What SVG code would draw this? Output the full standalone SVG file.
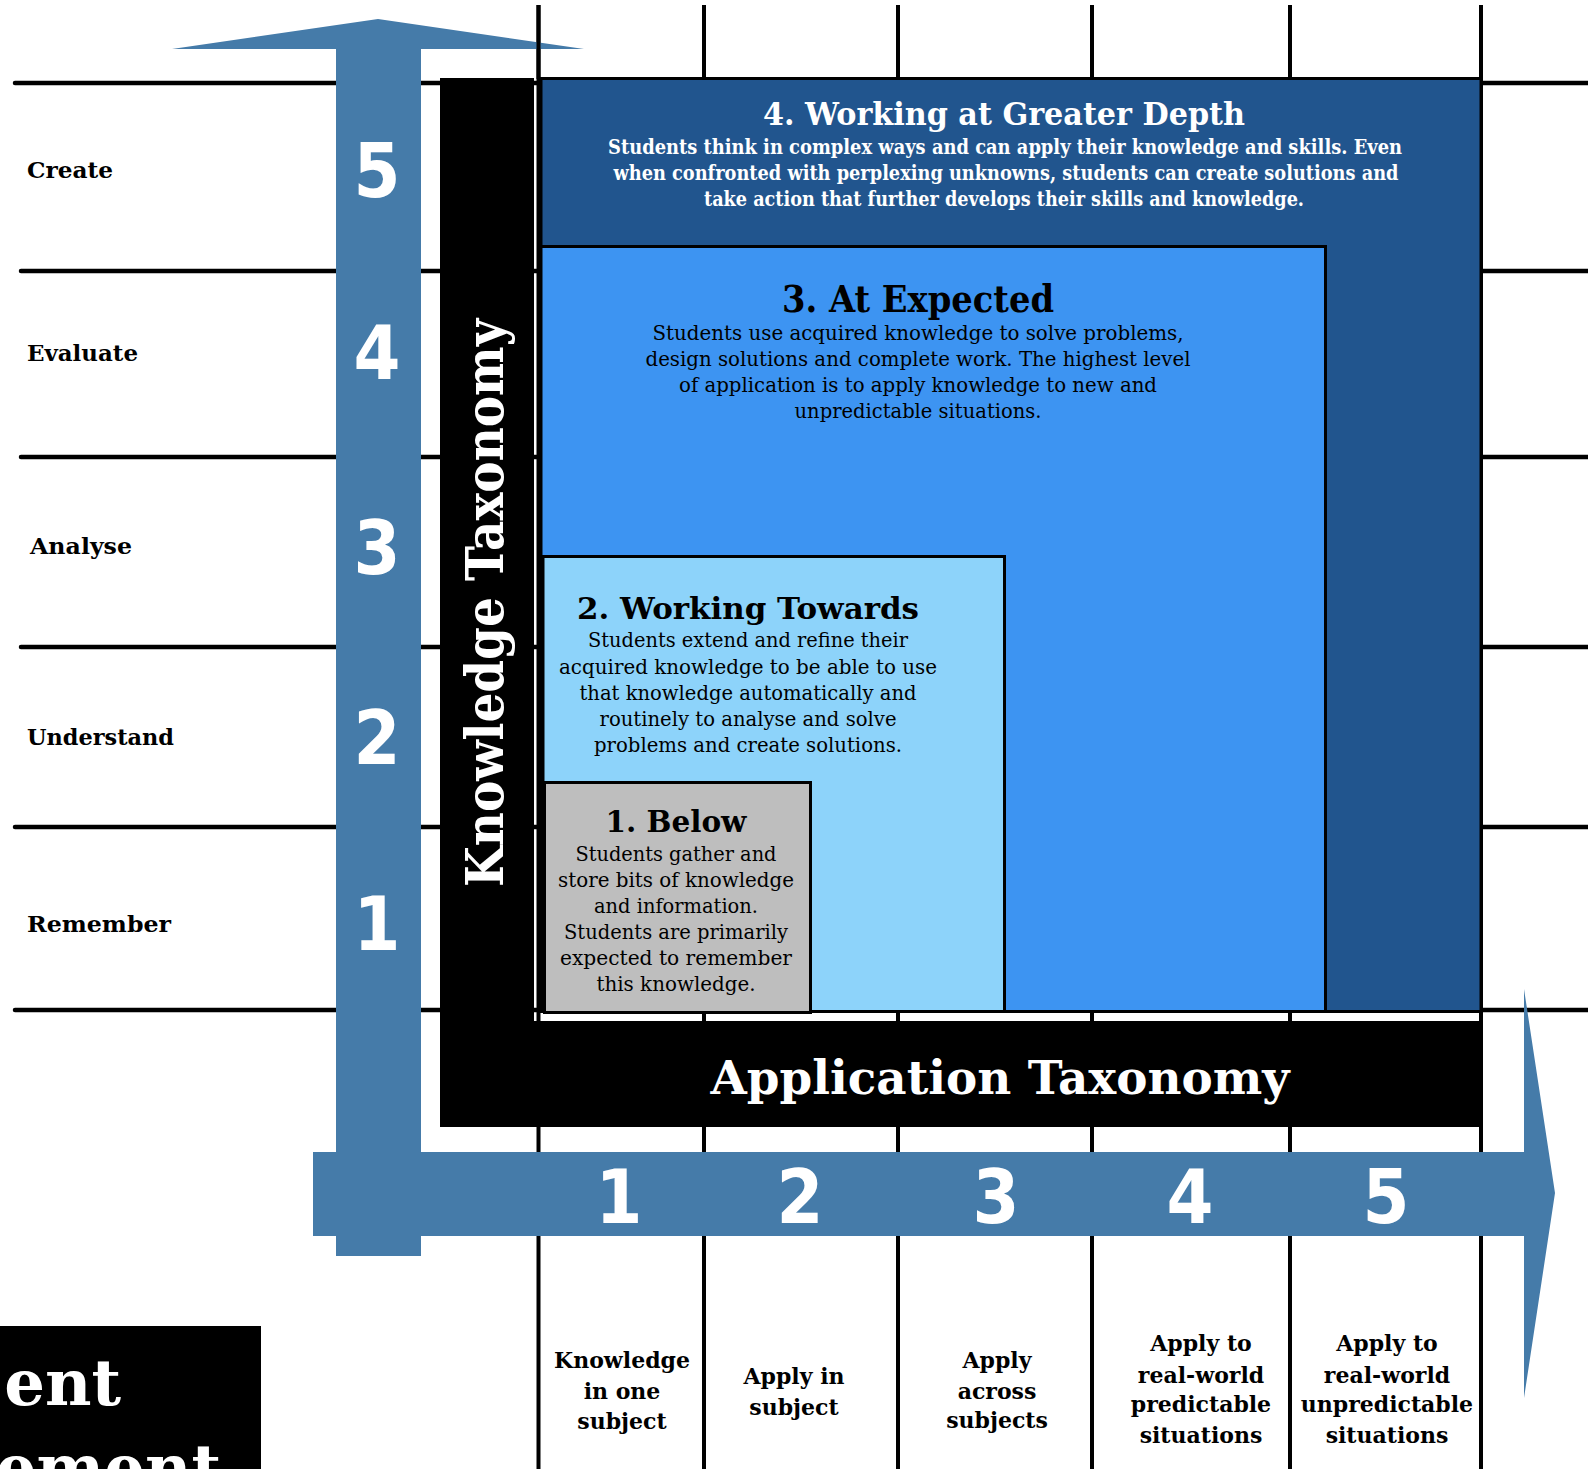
<svg xmlns="http://www.w3.org/2000/svg" width="1588" height="1469" viewBox="0 0 1588 1469">
<style>
.gl{stroke:#000;stroke-width:4.5;stroke-linecap:round;fill:none}
.gv{stroke:#000;stroke-width:4;fill:none}
.box{stroke:#000;stroke-width:3}
.arrow{fill:#457BA9}
.lbl{font-family:'DejaVu Serif',serif;font-weight:bold;font-size:23px;fill:#000}
.blbl{font-family:'DejaVu Serif',serif;font-weight:bold;font-size:22px;fill:#000;text-anchor:middle}
.num{font-family:'DejaVu Sans Condensed','DejaVu Sans',sans-serif;font-stretch:condensed;font-weight:bold;font-size:75px;fill:#fff;text-anchor:middle}
.cb{font-family:'DejaVu Serif Condensed','DejaVu Serif',serif;font-stretch:condensed;font-weight:bold;text-anchor:middle}
.cr{font-family:'DejaVu Serif Condensed','DejaVu Serif',serif;font-stretch:condensed;text-anchor:middle}
.sb{font-family:'DejaVu Serif',serif;font-weight:bold;text-anchor:middle}
.sr{font-family:'DejaVu Serif',serif;text-anchor:middle}
</style>
<rect width="1588" height="1469" fill="#fff"/>
<g id="grid">
  <line class="gl" x1="15" y1="83" x2="541" y2="83"/>
  <line class="gl" x1="21" y1="271" x2="541" y2="271"/>
  <line class="gl" x1="21" y1="457" x2="541" y2="457"/>
  <line class="gl" x1="21" y1="647" x2="541" y2="647"/>
  <line class="gl" x1="15" y1="827" x2="541" y2="827"/>
  <line class="gl" x1="15" y1="1010" x2="541" y2="1010"/>
  <line class="gl" x1="1481" y1="83" x2="1590" y2="83"/>
  <line class="gl" x1="1481" y1="271" x2="1590" y2="271"/>
  <line class="gl" x1="1481" y1="457" x2="1590" y2="457"/>
  <line class="gl" x1="1481" y1="647" x2="1590" y2="647"/>
  <line class="gl" x1="1481" y1="827" x2="1590" y2="827"/>
  <line class="gl" x1="1481" y1="1010" x2="1590" y2="1010"/>
  <line class="gv" x1="538.5" y1="5" x2="538.5" y2="1469"/>
  <line class="gv" x1="704" y1="5" x2="704" y2="1469"/>
  <line class="gv" x1="898" y1="5" x2="898" y2="1469"/>
  <line class="gv" x1="1092" y1="5" x2="1092" y2="1469"/>
  <line class="gv" x1="1290" y1="5" x2="1290" y2="1469"/>
  <line class="gv" x1="1481" y1="5" x2="1481" y2="1469"/>
</g>
<g id="frame">
  <rect x="440" y="78" width="94" height="1049" fill="#000"/>
  <rect x="440" y="1021" width="1042" height="106" fill="#000"/>
  <text class="cb" transform="translate(503,603) rotate(-90)" font-size="52" fill="#fff" textLength="568" lengthAdjust="spacingAndGlyphs">Knowledge Taxonomy</text>
  <text class="sb" x="1000" y="1094" font-size="47" fill="#fff" textLength="579" lengthAdjust="spacingAndGlyphs">Application Taxonomy</text>
</g>
<g id="level4">
  <rect class="box" x="541" y="78.5" width="940" height="933" fill="#21558E"/>
  <text class="cb" x="1004" y="125" font-size="31" fill="#fff" textLength="482" lengthAdjust="spacingAndGlyphs">4. Working at Greater Depth</text>
  <text class="cb" x="1005" y="154" font-size="20" fill="#fff" textLength="794" lengthAdjust="spacingAndGlyphs">Students think in complex ways and can apply their knowledge and skills. Even</text>
  <text class="cb" x="1006" y="180" font-size="20" fill="#fff" textLength="785" lengthAdjust="spacingAndGlyphs">when confronted with perplexing unknowns, students can create solutions and</text>
  <text class="cb" x="1004" y="205.5" font-size="20" fill="#fff" textLength="600" lengthAdjust="spacingAndGlyphs">take action that further develops their skills and knowledge.</text>
</g>
<g id="level3">
  <rect class="box" x="541" y="246.5" width="784.5" height="765" fill="#3D94F2"/>
  <text class="cb" x="918" y="312" font-size="38" fill="#000" textLength="272" lengthAdjust="spacingAndGlyphs">3. At Expected</text>
  <text class="cr" x="918" y="340" font-size="21" fill="#000" textLength="531" lengthAdjust="spacingAndGlyphs">Students use acquired knowledge to solve problems,</text>
  <text class="cr" x="918" y="366" font-size="21" fill="#000" textLength="545" lengthAdjust="spacingAndGlyphs">design solutions and complete work. The highest level</text>
  <text class="cr" x="918" y="392" font-size="21" fill="#000" textLength="478" lengthAdjust="spacingAndGlyphs">of application is to apply knowledge to new and</text>
  <text class="cr" x="918" y="418" font-size="21" fill="#000" textLength="247" lengthAdjust="spacingAndGlyphs">unpredictable situations.</text>
</g>
<g id="level2">
  <rect class="box" x="543" y="556.5" width="461.5" height="455" fill="#8DD3FA"/>
  <text class="sb" x="748" y="619" font-size="30" fill="#000" textLength="342" lengthAdjust="spacingAndGlyphs">2. Working Towards</text>
  <text class="sr" x="748" y="647" font-size="20" fill="#000" textLength="320" lengthAdjust="spacingAndGlyphs">Students extend and refine their</text>
  <text class="sr" x="748" y="674" font-size="20" fill="#000" textLength="378" lengthAdjust="spacingAndGlyphs">acquired knowledge to be able to use</text>
  <text class="sr" x="748" y="700" font-size="20" fill="#000" textLength="337" lengthAdjust="spacingAndGlyphs">that knowledge automatically and</text>
  <text class="sr" x="748" y="726" font-size="20" fill="#000" textLength="297" lengthAdjust="spacingAndGlyphs">routinely to analyse and solve</text>
  <text class="sr" x="748" y="752" font-size="20" fill="#000" textLength="308" lengthAdjust="spacingAndGlyphs">problems and create solutions.</text>
</g>
<g id="level1">
  <rect class="box" x="544.5" y="782.5" width="266" height="230" fill="#BEBEBE"/>
  <text class="sb" x="676" y="832" font-size="30" fill="#000" textLength="141" lengthAdjust="spacingAndGlyphs">1. Below</text>
  <text class="sr" x="676" y="861" font-size="20" fill="#000" textLength="201" lengthAdjust="spacingAndGlyphs">Students gather and</text>
  <text class="sr" x="676" y="887" font-size="20" fill="#000" textLength="236" lengthAdjust="spacingAndGlyphs">store bits of knowledge</text>
  <text class="sr" x="676" y="913" font-size="20" fill="#000" textLength="164" lengthAdjust="spacingAndGlyphs">and information.</text>
  <text class="sr" x="676" y="939" font-size="20" fill="#000" textLength="224" lengthAdjust="spacingAndGlyphs">Students are primarily</text>
  <text class="sr" x="676" y="965" font-size="20" fill="#000" textLength="232" lengthAdjust="spacingAndGlyphs">expected to remember</text>
  <text class="sr" x="676" y="991" font-size="20" fill="#000" textLength="159" lengthAdjust="spacingAndGlyphs">this knowledge.</text>
</g>
<g id="connectors">
  <polygon id="app-axis" class="arrow" points="313,1152 1524,1152 1524,989 1555,1193 1524,1398 1524,1236 313,1236"/>
  <polygon id="know-axis" class="arrow" points="336,1256 336,49 172,49 378,19 584,49 421,49 421,1256"/>
  <line class="gv" x1="538.5" y1="5" x2="538.5" y2="79"/>
</g>
<g id="know-numbers">
  <text class="num" x="377" y="197">5</text>
  <text class="num" x="377" y="379">4</text>
  <text class="num" x="377" y="574">3</text>
  <text class="num" x="377" y="764">2</text>
  <text class="num" x="377" y="950">1</text>
</g>
<g id="app-numbers">
  <text class="num" x="619" y="1223">1</text>
  <text class="num" x="800" y="1223">2</text>
  <text class="num" x="996" y="1223">3</text>
  <text class="num" x="1190" y="1223">4</text>
  <text class="num" x="1386" y="1223">5</text>
</g>
<g id="know-labels">
  <text class="lbl" x="27" y="178" textLength="86" lengthAdjust="spacingAndGlyphs">Create</text>
  <text class="lbl" x="27" y="361" textLength="111" lengthAdjust="spacingAndGlyphs">Evaluate</text>
  <text class="lbl" x="30" y="554" textLength="102" lengthAdjust="spacingAndGlyphs">Analyse</text>
  <text class="lbl" x="27" y="745" textLength="147" lengthAdjust="spacingAndGlyphs">Understand</text>
  <text class="lbl" x="27" y="932" textLength="144" lengthAdjust="spacingAndGlyphs">Remember</text>
</g>
<g id="app-labels">
  <text class="blbl" x="622" y="1368">Knowledge</text>
  <text class="blbl" x="622" y="1399">in one</text>
  <text class="blbl" x="622" y="1429">subject</text>
  <text class="blbl" x="794" y="1384">Apply in</text>
  <text class="blbl" x="794" y="1415">subject</text>
  <text class="blbl" x="997" y="1368">Apply</text>
  <text class="blbl" x="997" y="1399">across</text>
  <text class="blbl" x="997" y="1428">subjects</text>
  <text class="blbl" x="1201" y="1351">Apply to</text>
  <text class="blbl" x="1201" y="1383">real-world</text>
  <text class="blbl" x="1201" y="1412">predictable</text>
  <text class="blbl" x="1201" y="1443">situations</text>
  <text class="blbl" x="1387" y="1351">Apply to</text>
  <text class="blbl" x="1387" y="1383">real-world</text>
  <text class="blbl" x="1387" y="1412">unpredictable</text>
  <text class="blbl" x="1387" y="1443">situations</text>
</g>
<g id="title-box">
  <rect x="0" y="1326" width="261" height="143" fill="#000"/>
  <text class="sb" x="121" y="1405" font-size="64" fill="#fff" style="text-anchor:end">ent</text>
  <text class="sb" x="221" y="1490" font-size="64" fill="#fff" style="text-anchor:end">ement</text>
</g>
</svg>
